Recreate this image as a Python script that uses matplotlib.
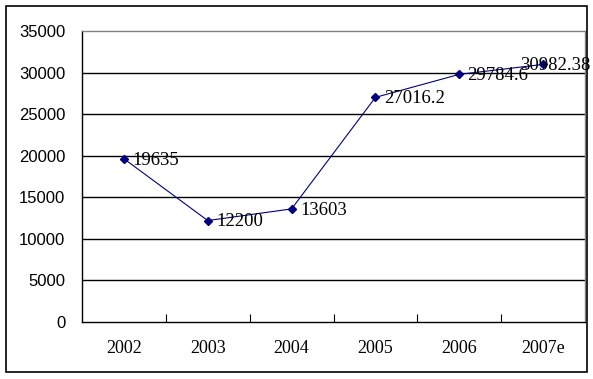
import numpy as np
import matplotlib.pyplot as plt
from matplotlib.patches import Rectangle

years = ['2002', '2003', '2004', '2005', '2006', '2007e']
values = [19635, 12200, 13603, 27016.2, 29784.6, 30982.38]
labels = ['19635', '12200', '13603', '27016.2', '29784.6', '30982.38']
yticks = [0, 5000, 10000, 15000, 20000, 25000, 30000, 35000]

fig = plt.figure(figsize=(5.93, 3.79), dpi=100)
fig.patches.append(Rectangle((6 / 593, 7 / 379), 581 / 593, 366 / 379,
                             transform=fig.transFigure, fill=False,
                             edgecolor='black', linewidth=1.2))
ax = fig.add_axes([82 / 593, 1 - 322 / 379, 503 / 593, 291 / 379])

x = np.arange(len(years))
ax.plot(x, values, color='#000080', linewidth=0.8, marker='D', markersize=4,
        zorder=3)
for i, (xi, v, lab) in enumerate(zip(x, values, labels)):
    # last label does not fit on the right, so it sits over its point
    if i == len(years) - 1:
        off, ha = (9, -1), 'center'
    else:
        off, ha = (6, -1), 'left'
    ax.annotate(lab, (xi, v), xytext=off, textcoords='offset points',
                ha=ha, va='center', fontsize=13.5,
                family='Liberation Serif', color='black', zorder=4,
                annotation_clip=False)

ax.set_xlim(-0.5, len(years) - 0.5)
ax.set_ylim(0, 35000)
ax.set_yticks(yticks)
ax.set_yticklabels([str(t) for t in yticks], fontsize=12,
                   family='Liberation Sans')
for t in yticks[1:-1]:
    ax.axhline(t, color='black', linewidth=1.0, zorder=1)

ax.set_xticks(x)
ax.set_xticklabels(years, fontsize=13, family='Liberation Serif')
ax.set_xticks(np.arange(0.5, len(years) - 0.5), minor=True)
ax.tick_params(axis='x', which='major', length=0, pad=13)
ax.tick_params(axis='x', which='minor', direction='in', length=6,
               width=0.8, color='black')
ax.tick_params(axis='y', length=0, pad=12)

ax.spines['left'].set_color('black')
ax.spines['bottom'].set_color('black')
ax.spines['top'].set_color('#808080')
ax.spines['right'].set_color('#808080')
for s in ax.spines.values():
    s.set_linewidth(1.0)

fig.savefig('out.png', dpi=100)
